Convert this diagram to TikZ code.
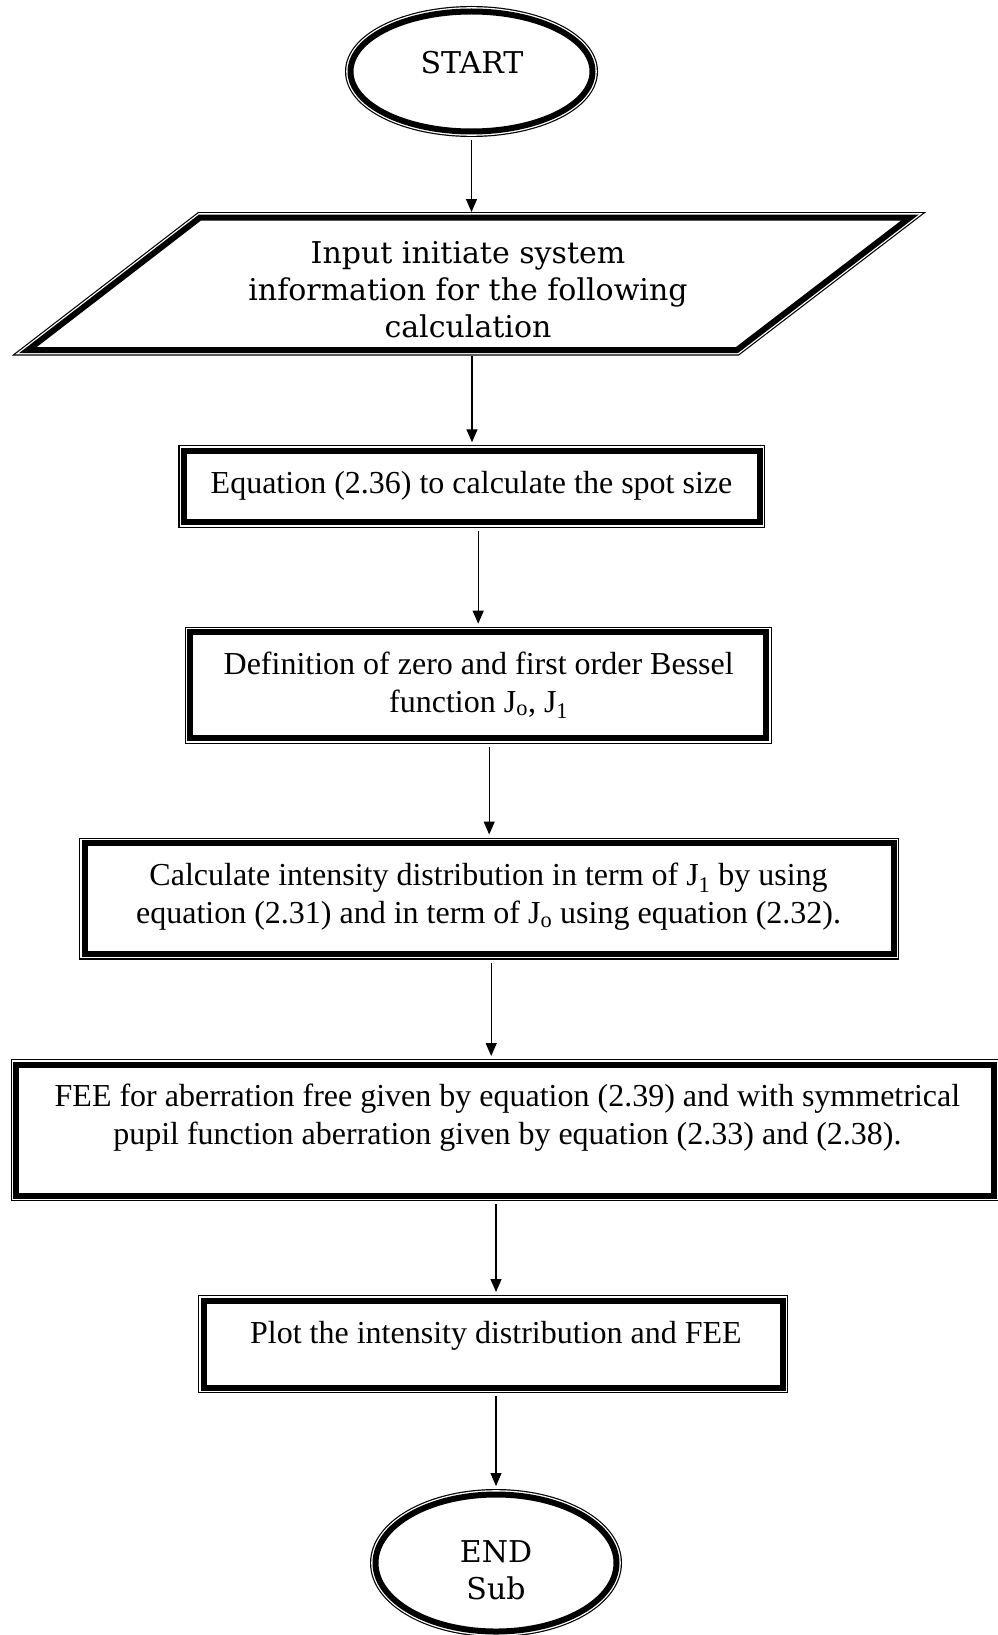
\documentclass[tikz,border=0pt]{standalone}
\usepackage{fontspec}
\setmainfont{Liberation Serif}
\newfontfamily\bookfont{DejaVu Serif}
\usetikzlibrary{arrows.meta,shapes.geometric}

\tikzset{
  % thin outer line, small gap, thick inner line
  frame/.style={draw=black, line width=6pt, fill=white, inner sep=0pt,
    preaction={draw=black, line width=11pt},
    preaction={draw=white, line width=8.6pt}},
  arr/.style={-{Triangle[width=11pt,length=13pt]}, line width=1.2pt,
    shorten <=5.5pt, shorten >=5.5pt},
  tnr/.style={font=\fontsize{32}{38}\selectfont, align=center, inner sep=0pt},
  bk/.style={font=\bookfont\fontsize{30}{37}\selectfont, align=center, inner sep=0pt},
}

\begin{document}
\begin{tikzpicture}[x=1pt,y=-1pt]
\useasboundingbox (0,0) rectangle (997,1635);
\fill[white] (0,0) rectangle (997,1635);

% start terminal
\node[frame, ellipse, minimum width=242pt, minimum height=120pt] (start) at (471.5,71.5) {};
\node[bk] (startlbl) at (472,62.5) {START};

% input parallelogram
\draw[frame] (200,217.5) -- (910,217.5) -- (737,350) -- (28,350) -- cycle;
\coordinate (inTop) at (472,217.5);
\coordinate (inBot) at (472,350);
\node[bk] (input) at (468,290) {Input initiate system\\information for the following\\calculation};

% process boxes
\node[frame, minimum width=576pt, minimum height=71.5pt] (eq) at (471.9,486.5) {};
\node[tnr] (eqlbl) at (471.5,486) {Equation (2.36) to calculate the spot size};

\node[frame, minimum width=576pt, minimum height=106pt] (def) at (478.2,685.2) {};
\node[tnr] (deflbl) at (478.7,685) {Definition of zero and first order Bessel\\function J\textsubscript{o}, J\textsubscript{1}};

\node[frame, minimum width=809pt, minimum height=111pt] (calc) at (489.2,898.5) {};
\node[tnr] (calclbl) at (488.6,897) {Calculate intensity distribution in term of J\textsubscript{1} by using\\equation (2.31) and in term of J\textsubscript{o} using equation (2.32).};

\node[frame, minimum width=978pt, minimum height=131pt] (fee) at (505.3,1130) {};
\node[tnr] (feelbl) at (507.4,1117.5) {FEE for aberration free given by equation (2.39) and with symmetrical\\pupil function aberration given by equation (2.33) and (2.38).};

\node[frame, minimum width=579pt, minimum height=87pt] (plot) at (493,1344) {};
\node[tnr] (plotlbl) at (495.9,1336) {Plot the intensity distribution and FEE};

% end terminal
\node[frame, ellipse, minimum width=241pt, minimum height=137pt] (finish) at (496,1563) {};
\node[bk] (finishlbl) at (496,1570) {END\\Sub};

% connectors
\draw[arr] (start.south) -- (start.south |- inTop);
\draw[arr] (inBot) -- (inBot |- eq.north);
\draw[arr] (eq.south -| def.north) -- (def.north);
\draw[arr] (def.south -| calc.north) -- (calc.north);
\draw[arr] ([xshift=2pt]calc.south) -- ([xshift=2pt]calc.south |- fee.north);
\draw[arr] (fee.south -| finish.north) -- (plot.north -| finish.north);
\draw[arr] (plot.south -| finish.north) -- (finish.north);
\end{tikzpicture}
\end{document}
